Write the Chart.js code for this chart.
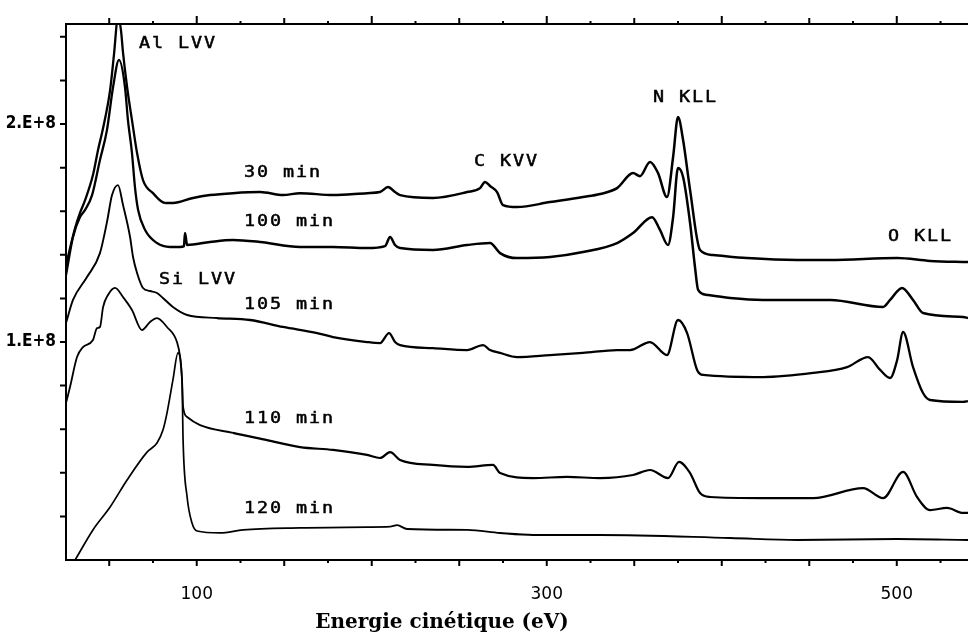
<!DOCTYPE html>
<html>
  <head>
    <meta charset="utf-8" />
    <title>Spectres Auger</title>
    <script src="https://cdn.jsdelivr.net/npm/chart.js@4.4.1/dist/chart.umd.min.js"></script>
    <style>
      body { margin: 0; background: #fff; }
      canvas { display: block; }
    </style>
  </head>
  <body>
    <canvas id="chart" width="968" height="636"></canvas>
    <script>
      // energies (eV) and intensities (in units of 1E+8)
      const e30 = [25.3, 30.5, 33.3, 36.2, 40.7, 43.6, 46.5, 50.5, 52.7, 55.0, 56.7, 57.9, 60.2, 63.0, 65.9, 69.3, 75.0, 81.9, 86.4, 97.9, 107.6, 120.7, 136.2, 149.3, 159.0, 177.9, 197.3, 204.7, 209.3, 213.3, 216.2, 235.0, 254.5, 261.9, 264.7, 267.6, 271.6, 275.0, 283.0, 301.9, 320.7, 330.5, 340.2, 349.3, 353.3, 359.0, 363.6, 368.7, 372.2, 375.0, 377.9, 381.9, 387.6, 395.0, 414.4, 443.0, 461.9, 500.2, 519.0, 540.7];
      const i30 = [1.353, 1.523, 1.592, 1.651, 1.766, 1.881, 1.982, 2.156, 2.317, 2.49, 2.431, 2.326, 2.170, 2.018, 1.867, 1.743, 1.683, 1.638, 1.638, 1.661, 1.674, 1.683, 1.688, 1.674, 1.683, 1.674, 1.683, 1.688, 1.711, 1.688, 1.674, 1.661, 1.688, 1.706, 1.734, 1.716, 1.688, 1.628, 1.619, 1.642, 1.665, 1.679, 1.706, 1.775, 1.761, 1.826, 1.775, 1.665, 1.849, 2.032, 1.927, 1.697, 1.422, 1.399, 1.385, 1.376, 1.376, 1.385, 1.372, 1.367];

      const e100 = [25.3, 29.3, 33.3, 36.2, 40.2, 44.7, 48.7, 52.2, 55.6, 59.0, 60.7, 63.0, 64.7, 66.5, 70.5, 77.3, 84.7, 90.5, 92.7, 93.3, 94.5, 107.6, 120.7, 136.2, 159.0, 177.9, 197.3, 207.6, 210.5, 213.3, 216.2, 235.0, 254.5, 267.6, 273.3, 283.0, 301.9, 320.7, 340.2, 349.3, 360.2, 364.7, 369.3, 372.2, 375.0, 377.9, 381.9, 384.7, 386.5, 391.6, 404.8, 423.6, 461.9, 492.2, 496.2, 503.0, 509.3, 515.0, 537.9, 540.7];
      const i100 = [1.307, 1.482, 1.573, 1.606, 1.674, 1.835, 1.972, 2.170, 2.294, 2.170, 2.018, 1.867, 1.711, 1.606, 1.514, 1.454, 1.436, 1.436, 1.440, 1.500, 1.445, 1.459, 1.468, 1.459, 1.436, 1.436, 1.431, 1.440, 1.482, 1.445, 1.431, 1.422, 1.445, 1.454, 1.408, 1.385, 1.390, 1.413, 1.454, 1.500, 1.573, 1.514, 1.445, 1.573, 1.798, 1.757, 1.546, 1.344, 1.239, 1.216, 1.202, 1.193, 1.193, 1.161, 1.193, 1.248, 1.193, 1.133, 1.115, 1.110];

      const e105 = [25.3, 29.3, 37.3, 44.7, 48.7, 51.6, 55.0, 57.9, 61.9, 63.6, 65.9, 69.3, 73.3, 77.3, 80.7, 86.4, 94.5, 111.6, 130.5, 149.3, 168.8, 177.9, 197.3, 204.7, 209.9, 213.3, 216.2, 235.0, 254.5, 263.6, 267.6, 273.3, 283.0, 301.9, 320.7, 340.2, 347.6, 359.0, 368.7, 375.0, 380.2, 385.9, 389.3, 423.6, 452.2, 471.6, 483.6, 490.5, 496.2, 500.2, 503.6, 509.3, 515.0, 519.0, 537.9, 540.7];
      const i105 = [1.087, 1.193, 1.298, 1.408, 1.550, 1.674, 1.720, 1.628, 1.482, 1.390, 1.317, 1.248, 1.234, 1.225, 1.202, 1.161, 1.124, 1.110, 1.101, 1.069, 1.041, 1.023, 1.000, 0.995, 1.041, 1.000, 0.986, 0.972, 0.963, 0.986, 0.963, 0.950, 0.931, 0.940, 0.950, 0.963, 0.963, 1.000, 0.940, 1.101, 1.041, 0.872, 0.849, 0.839, 0.858, 0.885, 0.931, 0.872, 0.835, 0.917, 1.046, 0.885, 0.766, 0.734, 0.725, 0.729];

      const e110 = [25.3, 27.6, 31.6, 35.0, 40.7, 43.0, 44.7, 46.5, 49.3, 53.3, 57.9, 63.0, 68.7, 73.3, 77.3, 83.0, 88.7, 90.5, 91.6, 92.2, 94.5, 101.9, 120.7, 140.2, 159.0, 177.9, 197.3, 204.7, 210.5, 216.2, 235.0, 254.5, 269.3, 273.3, 292.2, 311.6, 330.5, 349.3, 359.0, 369.3, 375.6, 381.9, 387.6, 393.3, 423.6, 452.2, 480.8, 492.2, 503.6, 511.6, 519.0, 528.7, 537.9, 540.7];
      const i110 = [0.720, 0.794, 0.931, 0.977, 1.009, 1.064, 1.069, 1.161, 1.216, 1.248, 1.206, 1.147, 1.055, 1.092, 1.110, 1.069, 1.000, 0.931, 0.826, 0.702, 0.656, 0.619, 0.583, 0.550, 0.518, 0.505, 0.482, 0.468, 0.495, 0.459, 0.436, 0.427, 0.436, 0.399, 0.376, 0.381, 0.376, 0.390, 0.413, 0.376, 0.450, 0.399, 0.307, 0.289, 0.284, 0.284, 0.330, 0.284, 0.404, 0.289, 0.229, 0.239, 0.216, 0.216];

      const e120 = [30.5, 40.7, 50.5, 60.2, 71.6, 77.3, 80.7, 83.0, 86.4, 89.3, 91.6, 92.2, 94.5, 97.3, 100.2, 113.3, 126.5, 159.0, 197.3, 210.5, 214.5, 220.2, 254.5, 273.3, 292.2, 330.5, 404.8, 443.0, 500.2, 540.7];
      const i120 = [0, 0.138, 0.243, 0.367, 0.495, 0.537, 0.596, 0.674, 0.826, 0.950, 0.826, 0.550, 0.289, 0.170, 0.133, 0.124, 0.138, 0.147, 0.151, 0.153, 0.160, 0.142, 0.138, 0.124, 0.115, 0.115, 0.101, 0.092, 0.096, 0.092];

      const xTickLabels = [100, 300, 500];
      const yTickLabels = [1, 2];

      // curve labels, anchored at (eV, intensity)
      const timeLabels = ["30 min", "100 min", "105 min", "110 min", "120 min"];
      const timeLabelX = [126.4, 126.4, 126.4, 126.4, 126.4];
      const timeLabelY = [1.775, 1.550, 1.170, 0.647, 0.234];

      const peakLabels = ["Al LVV", "C KVV", "N KLL", "O KLL", "Si LVV"];
      const peakLabelX = [66.5, 257.9, 360.2, 494.5, 77.9];
      const peakLabelY = [2.367, 1.826, 2.119, 1.482, 1.284];

      const xTitle = "Energie cinétique (eV)";

      function pts(e, v) {
        return e.map((x, i) => ({ x: x, y: v[i] }));
      }

      // slightly thinner strokes at low energy, heavier (noisy) trace further right
      function spectrum(e, v, thin, thick, from) {
        return {
          data: pts(e, v),
          showLine: true,
          borderColor: "#000",
          borderWidth: thick,
          borderJoinStyle: "round",
          pointRadius: 0,
          cubicInterpolationMode: "monotone",
          segment: {
            borderWidth: (c) => (c.p0.parsed.x < from ? thin : thick),
          },
        };
      }

      function plotterText(ctx, str, x, y) {
        // wide, evenly spaced letters like the plotter lettering
        for (let i = 0; i < str.length; i++) {
          ctx.save();
          ctx.translate(x + i * 13 + 6.5, y);
          ctx.scale(1.15, 1);
          ctx.fillText(str[i], 0, 0);
          ctx.strokeText(str[i], 0, 0);
          ctx.restore();
        }
      }

      const frame = {
        id: "frame",
        afterDatasetsDraw(chart) {
          const { ctx, chartArea: a, scales } = chart;
          const x = scales.x;
          const y = scales.y;
          ctx.save();
          ctx.strokeStyle = "#000";
          ctx.lineWidth = 2;
          ctx.beginPath();
          ctx.moveTo(a.right, a.top);
          ctx.lineTo(a.left, a.top);
          ctx.lineTo(a.left, a.bottom);
          ctx.lineTo(a.right, a.bottom);
          for (let v = 50; v < x.max; v += 25) {
            const px = x.getPixelForValue(v);
            const len = v % 50 === 0 ? 6 : 3;
            ctx.moveTo(px, a.bottom);
            ctx.lineTo(px, a.bottom + len);
            ctx.moveTo(px, a.top);
            ctx.lineTo(px, a.top - len - (v % 100 === 0 ? 2 : 0));
          }
          for (let k = 1; k * 0.2 < y.max; k++) {
            const py = y.getPixelForValue(k * 0.2);
            ctx.moveTo(a.left, py);
            ctx.lineTo(a.left - 6, py);
          }
          ctx.stroke();

          ctx.fillStyle = "#000";
          ctx.lineWidth = 0.5;
          ctx.font = "16px 'DejaVu Sans Mono'";
          ctx.textAlign = "center";
          ctx.textBaseline = "middle";
          timeLabels.forEach((t, i) => {
            plotterText(ctx, t, x.getPixelForValue(timeLabelX[i]), y.getPixelForValue(timeLabelY[i]));
          });
          peakLabels.forEach((t, i) => {
            plotterText(ctx, t, x.getPixelForValue(peakLabelX[i]), y.getPixelForValue(peakLabelY[i]));
          });

          // axis title, sized to span the same width as the original lettering
          ctx.font = "bold 20px 'DejaVu Serif'";
          const w = ctx.measureText(xTitle).width;
          const size = Math.round((20 * 255) / w);
          ctx.font = "bold " + size + "px 'DejaVu Serif'";
          ctx.textBaseline = "alphabetic";
          ctx.fillText(xTitle, 442, 628);
          ctx.restore();
        },
      };

      new Chart(document.getElementById("chart"), {
        type: "scatter",
        data: {
          datasets: [
            spectrum(e30, i30, 2.3, 2.5, 80),
            spectrum(e100, i100, 2.3, 2.5, 80),
            spectrum(e105, i105, 1.9, 2.3, 95),
            spectrum(e110, i110, 1.8, 2.2, 120),
            spectrum(e120, i120, 1.7, 1.9, 200),
          ],
        },
        options: {
          responsive: false,
          animation: false,
          devicePixelRatio: 1,
          layout: { padding: { top: 24, right: 0, left: 0, bottom: 0 } },
          plugins: { legend: { display: false }, tooltip: { enabled: false } },
          scales: {
            x: {
              type: "linear",
              min: 25.3,
              max: 540.7,
              afterFit(s) { s.height = 76; },
              afterBuildTicks(s) { s.ticks = xTickLabels.map((v) => ({ value: v })); },
              grid: { display: false, drawTicks: false },
              border: { display: false },
              ticks: {
                autoSkip: false,
                maxRotation: 0,
                padding: 24,
                color: "#000",
                font: { family: "DejaVu Sans", size: 17 },
              },
            },
            y: {
              min: 0,
              max: 2.459,
              afterFit(s) { s.width = 66; },
              afterBuildTicks(s) { s.ticks = yTickLabels.map((v) => ({ value: v })); },
              grid: { display: false, drawTicks: false },
              border: { display: false },
              ticks: {
                autoSkip: false,
                padding: 10,
                color: "#000",
                font: { family: "DejaVu Sans Condensed", size: 17, weight: "bold" },
                callback: (v) => v + ".E+8",
              },
            },
          },
        },
        plugins: [frame],
      });
    </script>
  </body>
</html>
